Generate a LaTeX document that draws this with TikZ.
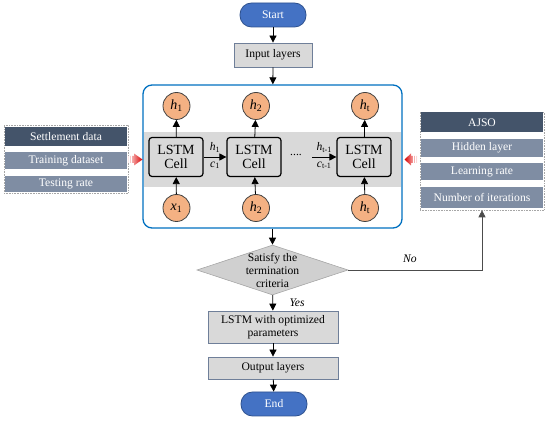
\documentclass[tikz,border=0pt]{standalone}
\usepackage{fontspec}
\setmainfont{Liberation Serif}
\usetikzlibrary{arrows.meta}
\usetikzlibrary{shapes.geometric}

\definecolor{startblue}{HTML}{4472C4}
\definecolor{startedge}{HTML}{2F528F}
\definecolor{boxgray}{HTML}{D9D9D9}
\definecolor{boxedge}{HTML}{6F7F99}
\definecolor{frameblue}{HTML}{0070C0}
\definecolor{peach}{HTML}{F4B183}
\definecolor{slatedark}{HTML}{44546A}
\definecolor{slatelight}{HTML}{7F8DA3}
\definecolor{diagray}{HTML}{D0D0D0}

\tikzset{
  flow/.style={-{Triangle[length=7pt,width=7pt]}, line width=0.8pt, black},
  terminal/.style={draw=startedge, fill=startblue, text=white, rounded corners=11.5pt,
    minimum width=66pt, minimum height=24pt, line width=0.8pt},
  procbox/.style={draw=boxedge, fill=boxgray, line width=0.8pt, align=center},
  cellbox/.style={draw=black, fill=boxgray, line width=1.2pt, rounded corners=3pt,
    minimum width=54pt, minimum height=39pt, align=center, font=\fontsize{14}{13.5}\selectfont},
  state/.style={circle, draw=black!75, fill=peach, minimum size=27pt, inner sep=0pt,
    line width=0.8pt, font=\fontsize{14}{15}\selectfont},
  darkbar/.style={fill=slatedark, text=white, minimum width=122pt},
  lightbar/.style={fill=slatelight, text=white, minimum width=122pt},
  panel/.style={draw=gray!70, densely dotted, line width=0.6pt},
  decision/.style={diamond, draw=gray!70, fill=diagray, minimum width=151pt,
    minimum height=50pt, inner sep=0pt, line width=0.6pt}
}

\begin{document}
\begin{tikzpicture}[x=1pt, y=-1pt, font=\fontsize{11.6}{13}\selectfont]
    \useasboundingbox (0,0) rectangle (550,422);

    % main flow
    \node[terminal] (start) at (273,15) {Start};
    \node[procbox, minimum width=78pt, minimum height=24pt] (input) at (273,55) {Input layers};

    % LSTM block
    \node[draw=frameblue, rounded corners=9pt, line width=1.3pt,
          minimum width=259pt, minimum height=143pt] (lstm) at (272.5,156.5) {};
    \fill[boxgray] (143.7,132) rectangle (401.3,187);

    \node[cellbox] (cell1) at (176,157) {LSTM\\Cell};
    \node[cellbox] (cell2) at (254,157) {LSTM\\Cell};
    \node[cellbox] (cell3) at (364,157) {LSTM\\Cell};

    \node[state] (out1) at (176.5,106) {\textit{h}\textsubscript{1}};
    \node[state] (out2) at (256,106) {\textit{h}\textsubscript{2}};
    \node[state] (out3) at (365,106) {\textit{h}\textsubscript{t}};
    \node[state] (in1) at (176.5,208) {\textit{x}\textsubscript{1}};
    \node[state] (in2) at (256,208) {\textit{h}\textsubscript{2}};
    \node[state] (in3) at (365,208) {\textit{h}\textsubscript{t}};

    \foreach \i in {1,2,3} {
        \draw[flow] (in\i) -- (cell\i);
        \draw[flow] (cell\i) -- (out\i);
    }

    \draw[flow] (cell1.east) -- (cell2.west)
        node[midway, above=1pt] {\textit{h}\textsubscript{1}}
        node[midway, below=1pt] {\textit{c}\textsubscript{1}};
    \node (dots) at (296,155) {....};
    \coordinate (prev) at (312,157);
    \draw[flow] (prev) -- (cell3.west)
        node[midway, above=1pt] {\textit{h}\textsubscript{t-1}}
        node[midway, below=1pt] {\textit{c}\textsubscript{t-1}};

    % data inputs (left)
    \node[panel, minimum width=124pt, minimum height=68pt] (data) at (66,159) {};
    \node[darkbar, minimum height=19pt] (settle) at (66,136.5) {Settlement data};
    \node[lightbar, minimum height=16pt] (train) at (66,160.5) {Training dataset};
    \node[lightbar, minimum height=15pt] (test) at (66,184) {Testing rate};

    % optimiser settings (right)
    \node[panel, minimum width=124pt, minimum height=98pt] (hyper) at (482,161) {};
    \node[darkbar, minimum height=20pt] (ajso) at (482,122.5) {AJSO};
    \node[lightbar, minimum height=16pt] (hidden) at (482,148) {Hidden layer};
    \node[lightbar, minimum height=17pt] (lrate) at (482,171.5) {Learning rate};
    \node[lightbar, minimum height=21pt] (iters) at (482,197.5) {Number of iterations};

    % striped red arrows
    \shade[left color=red!8, right color=red!85!black]
        (128,156) -- (134,156) -- (134,153.5) -- (142.5,159.5) -- (134,165.5) -- (134,163) -- (128,163) -- cycle;
    \shade[right color=red!8, left color=red!85!black]
        (417,156) -- (411,156) -- (411,153.5) -- (404.5,159.5) -- (411,165.5) -- (411,163) -- (417,163) -- cycle;
    \foreach \x in {129.5,131.5} \draw[white, line width=0.6pt] (\x,155) -- (\x,164);
    \foreach \x in {415.5,413.5} \draw[white, line width=0.6pt] (\x,155) -- (\x,164);

    % decision and output
    \node[decision, label={[align=center]center:Satisfy the\\termination\\criteria}] (check) at (272.5,270) {};
    \node[procbox, minimum width=130pt, minimum height=32pt] (opt) at (273,327) {LSTM with optimized\\parameters};
    \node[procbox, minimum width=130pt, minimum height=22pt] (output) at (273,368) {Output layers};
    \node[terminal] (end) at (274,404) {End};

    \draw[flow] (start) -- (input);
    \draw[flow] (input) -- (lstm);
    \draw[flow] (lstm) -- (check);
    \draw[flow] (check) -- (opt) node[midway, right, xshift=13pt] {\textit{Yes}};
    \draw[flow] (opt) -- (output);
    \draw[flow] (output) -- (end);
    \draw[flow, line width=0.6pt, black!70] (check.east) -| (hyper.south)
        node[pos=0.23, above=4pt, black] {\textit{No}};
\end{tikzpicture}
\end{document}
